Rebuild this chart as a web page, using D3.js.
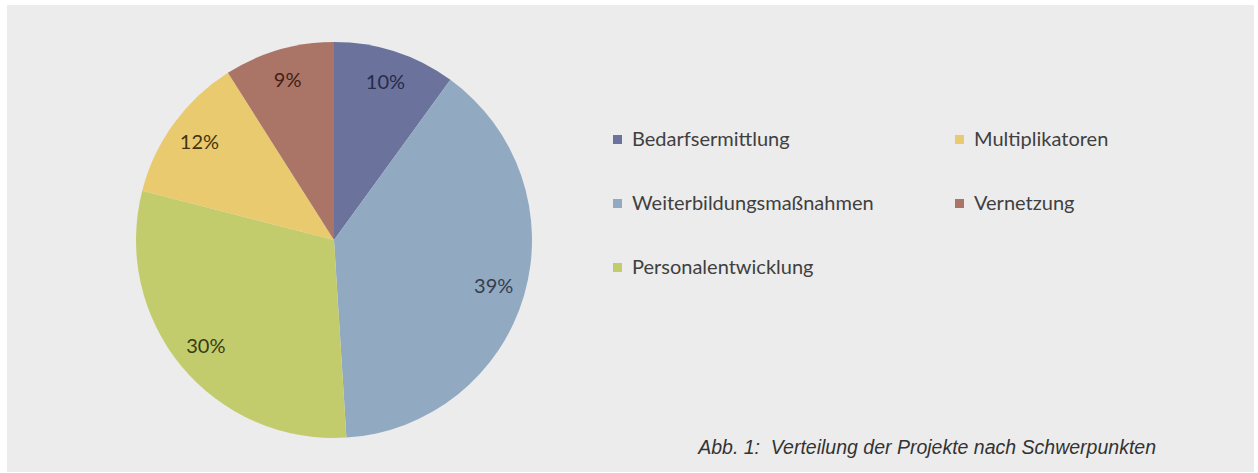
<!DOCTYPE html>
<html>
<head>
<meta charset="utf-8">
<script src="https://cdn.jsdelivr.net/npm/d3@7"></script>
<style>
  body { margin: 0; background: #fff; }
  svg { display: block; }
</style>
</head>
<body>
<div id="chart"></div>
<script>
// Verteilung der Projekte nach Schwerpunkten
var categories = ["Bedarfsermittlung", "Weiterbildungsmaßnahmen", "Personalentwicklung", "Multiplikatoren", "Vernetzung"];
var shares = [10, 39, 30, 12, 9];
var sliceColors = ["#6b739c", "#92a9c2", "#c3cc6c", "#eaca6e", "#aa7566"];
var labelColors = ["#262b4c", "#333e50", "#363c14", "#433410", "#441e14"];
var caption = "Abb. 1:  Verteilung der Projekte nach Schwerpunkten";

var data = categories.map(function(c, i) {
    return { name: c, value: shares[i], color: sliceColors[i], labelColor: labelColors[i] };
});

var width = 1258, height = 473;

var svg = d3.select("#chart")
    .append("svg")
    .attr("width", width)
    .attr("height", height);

// grauer Hintergrund
svg.append("rect")
    .attr("x", 7)
    .attr("y", 5)
    .attr("width", 1247)
    .attr("height", 467)
    .attr("fill", "#ececec");

var radius = 198;
var pieG = svg.append("g")
    .attr("transform", "translate(334,240)");

var pie = d3.pie()
    .sort(null)
    .value(d => d.value);

var arc = d3.arc()
    .innerRadius(0)
    .outerRadius(radius);

var labelArc = d3.arc()
    .innerRadius(radius * 0.84)
    .outerRadius(radius * 0.84);

var arcs = pie(data);

pieG.selectAll("path")
    .data(arcs)
    .enter().append("path")
    .attr("d", arc)
    .attr("fill", d => d.data.color);

pieG.selectAll("text")
    .data(arcs)
    .enter().append("text")
    .attr("transform", d => "translate(" + labelArc.centroid(d) + ")")
    .attr("dy", "0.35em")
    .style("text-anchor", "middle")
    .style("font-family", "Lato, 'Open Sans', sans-serif")
    .style("font-size", "20px")
    .style("fill", d => d.data.labelColor)
    .text(d => d.data.value + "%");

// Legende in zwei Spalten
var legendCol = d3.scalePoint()
    .domain([0, 1])
    .range([613, 955]);

var legendRow = d3.scalePoint()
    .domain([0, 1, 2])
    .range([139, 267]);

var legend = svg.selectAll(".legend")
    .data(data)
    .enter().append("g")
    .attr("class", "legend")
    .attr("transform", function(d, i) {
        var col = i < 3 ? 0 : 1;
        var row = i < 3 ? i : i - 3;
        return "translate(" + legendCol(col) + "," + legendRow(row) + ")";
    });

legend.append("rect")
    .attr("x", 0)
    .attr("y", -4)
    .attr("width", 9)
    .attr("height", 9)
    .attr("fill", d => d.color);

legend.append("text")
    .attr("x", 19)
    .attr("dy", "0.35em")
    .style("font-family", "Lato, 'Open Sans', sans-serif")
    .style("font-size", "20px")
    .style("fill", "#404040")
    .text(d => d.name);

svg.append("text")
    .attr("x", 1156)
    .attr("y", 454)
    .style("text-anchor", "end")
    .style("font-family", "'Liberation Sans', Arial, sans-serif")
    .style("font-style", "italic")
    .style("font-size", "19.5px")
    .style("fill", "#333")
    .style("white-space", "pre")
    .attr("xml:space", "preserve")
    .text(caption);
</script>
</body>
</html>
